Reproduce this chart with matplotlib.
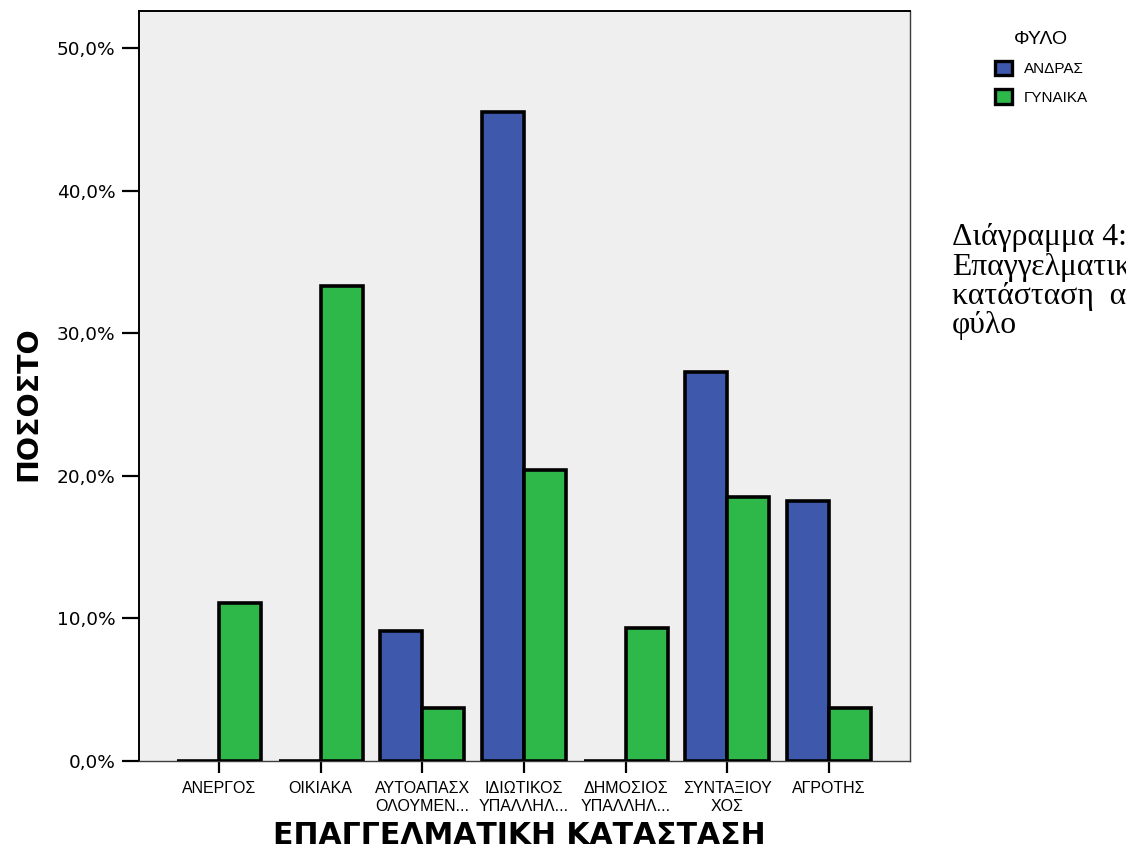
import matplotlib
matplotlib.use("Agg")
import matplotlib.pyplot as plt
from matplotlib.patches import Patch
import numpy as np

plt.rcParams['font.family'] = ['Liberation Sans', 'DejaVu Sans']

# Employment status by sex (percent within each sex)
categories = ["ΑΝΕΡΓΟΣ", "ΟΙΚΙΑΚΑ", "ΑΥΤΟΑΠΑΣΧ\nΟΛΟΥΜΕΝ...", "ΙΔΙΩΤΙΚΟΣ\nΥΠΑΛΛΗΛ...",
              "ΔΗΜΟΣΙΟΣ\nΥΠΑΛΛΗΛ...", "ΣΥΝΤΑΞΙΟΥ\nΧΟΣ", "ΑΓΡΟΤΗΣ"]
male = [0.0, 0.0, 9.1, 45.5, 0.0, 27.3, 18.2]
female = [11.1, 33.3, 3.7, 20.4, 9.3, 18.5, 3.7]
series_names = ["ΑΝΔΡΑΣ", "ΓΥΝΑΙΚΑ"]
y_ticks = [0, 10, 20, 30, 40, 50]
y_tick_labels = ["0,0%", "10,0%", "20,0%", "30,0%", "40,0%", "50,0%"]

blue = "#3E58AC"
green = "#2FB84A"
bg = "#EFEFEF"

fig = plt.figure(figsize=(11.26, 8.61), dpi=100)
ax = fig.add_axes([139 / 1126, 1 - 761 / 861, (910 - 139) / 1126, (761 - 11) / 861])
ax.set_facecolor(bg)

x = np.arange(len(categories))
w = 0.413
ax.bar(x - w / 2, male, width=w, color=blue, edgecolor="black", linewidth=2.6, zorder=3)
ax.bar(x + w / 2, female, width=w, color=green, edgecolor="black", linewidth=2.6, zorder=3)

ax.set_xlim(-0.787, 6.797)
ax.set_ylim(0, 52.6)

ax.set_yticks(y_ticks)
ax.set_yticklabels(y_tick_labels, fontsize=13.3, family="DejaVu Sans")
ax.tick_params(axis="y", length=12, width=1.6, pad=5, color="black")

ax.set_xticks(x)
ax.set_xticklabels(categories, fontsize=11.5, linespacing=1.2)
ax.tick_params(axis="x", length=8.5, width=1.6, pad=6, color="black")

for side in ["left", "top"]:
    ax.spines[side].set_color("black")
    ax.spines[side].set_linewidth(1.4)
for side in ["right", "bottom"]:
    ax.spines[side].set_color("#3c3c3c")
    ax.spines[side].set_linewidth(1.0)

fig.text(519 / 1126, 1 - 836 / 861, "ΕΠΑΓΓΕΛΜΑΤΙΚΗ ΚΑΤΑΣΤΑΣΗ", fontsize=21.5,
         fontweight="bold", family="DejaVu Sans", ha="center", va="center")
fig.text(28 / 1126, 1 - 404 / 861, "ΠΟΣΟΣΤΟ", fontsize=20.5, fontweight="bold",
         family="DejaVu Sans", rotation=90, ha="center", va="center")

handles = [Patch(facecolor=blue, edgecolor="black", linewidth=2.4),
           Patch(facecolor=green, edgecolor="black", linewidth=2.4)]
leg = fig.legend(handles, series_names, title="ΦΥΛΟ", loc="upper left",
                 bbox_to_anchor=(984 / 1126, 1 - 20 / 861), frameon=False,
                 fontsize=11, title_fontsize=14, handlelength=1.1, handleheight=1.1,
                 handletextpad=0.8, labelspacing=0.85, borderpad=0.2)

# Figure caption, one line per row, running past the right edge of the page
caption_lines = ["Διάγραμμα 4:", "Επαγγελματική", "κατάσταση  ανά", "φύλο"]
caption_baselines = [245, 274.5, 304, 333]
for line, yb in zip(caption_lines, caption_baselines):
    fig.text(952 / 1126, 1 - yb / 861, line, fontsize=22.8,
             family="Liberation Serif", ha="left", va="baseline")

fig.savefig("out.png", dpi=100, facecolor="white")
